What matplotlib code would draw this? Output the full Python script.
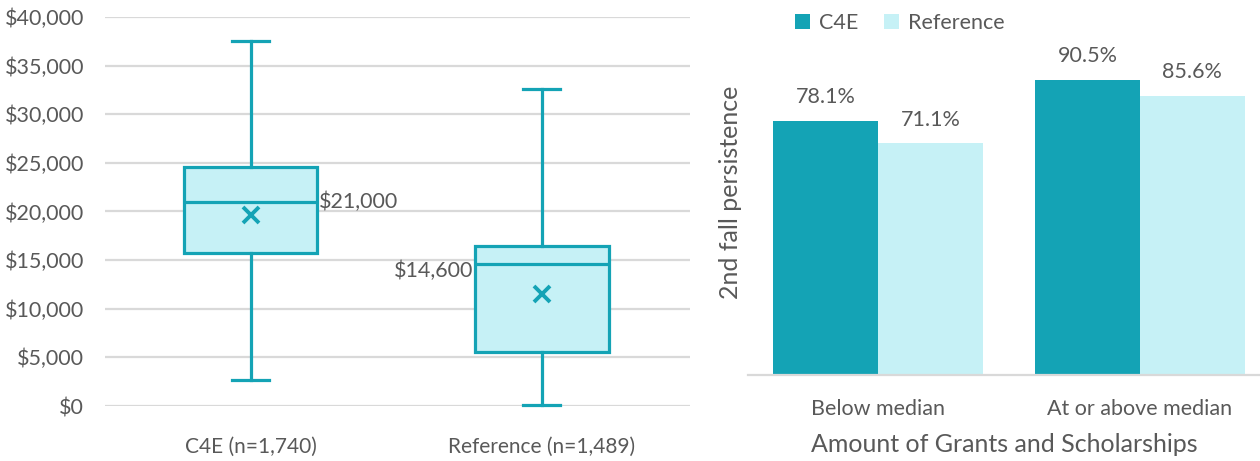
import matplotlib
matplotlib.use("Agg")
import matplotlib.pyplot as plt
from matplotlib.ticker import FuncFormatter
import numpy as np

plt.rcParams['font.family'] = ['Lato', 'DejaVu Sans']

# ---- data: box plot ----
groups = ["C4E (n=1,740)", "Reference (n=1,489)"]
whisker_low = [2700, 100]
q1 = [15700, 5600]
median = [21000, 14600]
q3 = [24600, 16500]
whisker_high = [37500, 32600]
mean = [19600, 11500]
median_labels = ["$21,000", "$14,600"]

# ---- data: bar chart ----
bar_categories = ["Below median", "At or above median"]
series_names = ["C4E", "Reference"]
c4e_values = [78.1, 90.5]
ref_values = [71.1, 85.6]

TEAL = "#14A3B5"
LIGHT = "#C6F1F6"
TEXT = "#595959"
GRID = "#D9D9D9"

fig = plt.figure(figsize=(12.6, 4.61), dpi=100)

# ---------- left: box plot ----------
ax1 = fig.add_axes([105/1260, 1-406/461, (690-105)/1260, (406-17)/461])
stats = []
for i in range(len(groups)):
    stats.append(dict(label=groups[i], whislo=whisker_low[i], q1=q1[i], med=median[i],
                      q3=q3[i], whishi=whisker_high[i], mean=mean[i], fliers=[]))
lw = 2.3
bp = ax1.bxp(stats, positions=[1, 2], widths=0.46, showmeans=True, patch_artist=True,
             boxprops=dict(facecolor=LIGHT, edgecolor=TEAL, linewidth=lw),
             medianprops=dict(color=TEAL, linewidth=lw),
             whiskerprops=dict(color=TEAL, linewidth=lw),
             capprops=dict(color=TEAL, linewidth=lw),
             meanprops=dict(marker='x', markeredgecolor=TEAL, markersize=11, markeredgewidth=2.8),
             capwidths=0.13)
for key in ['boxes', 'medians', 'whiskers', 'caps', 'means']:
    for a in bp[key]:
        a.set_clip_on(False)
        a.set_zorder(3)
ax1.set_xlim(0.5, 2.51)
ax1.set_ylim(0, 40000)
ax1.set_yticks(range(0, 40001, 5000))
ax1.yaxis.set_major_formatter(FuncFormatter(lambda v, p: f"${v:,.0f}"))
ax1.grid(axis='y', color=GRID, linewidth=1.6)
ax1.set_axisbelow(True)
for s in ax1.spines.values():
    s.set_visible(False)
ax1.tick_params(length=0, labelsize=15.5, colors=TEXT)
ax1.tick_params(axis='y', pad=15)
ax1.tick_params(axis='x', labelsize=15, pad=22)
# median labels
ax1.text(1 + 0.23 + 0.005, median[0], median_labels[0], ha='left', va='center', fontsize=15.5, color=TEXT)
ax1.text(2 - 0.23 - 0.005, median[1] - 700, median_labels[1], ha='right', va='center', fontsize=15.5, color=TEXT)

# ---------- right: bar chart ----------
ax2 = fig.add_axes([748/1260, 1-375/461, (1260-748)/1260, (375-10)/461])
x = np.arange(len(bar_categories))
w = 0.4
b1 = ax2.bar(x - w/2, c4e_values, w, color=TEAL, label=series_names[0])
b2 = ax2.bar(x + w/2, ref_values, w, color=LIGHT, label=series_names[1])
for bars, vals in [(b1, c4e_values), (b2, ref_values)]:
    for r, v in zip(bars, vals):
        ax2.annotate(f"{v:.1f}%", (r.get_x() + r.get_width()/2, v), xytext=(0, 10),
                     textcoords='offset points', ha='center', va='bottom', fontsize=15.5, color=TEXT)
ax2.set_xlim(-0.496, 1.458)
ax2.set_ylim(0, 112.1)
ax2.set_yticks([])
ax2.set_xticks(x)
ax2.set_xticklabels(bar_categories)
for s in ['top', 'right', 'left']:
    ax2.spines[s].set_visible(False)
ax2.spines['bottom'].set_color(GRID)
ax2.spines['bottom'].set_linewidth(1.6)
ax2.tick_params(length=0, labelsize=15.5, colors=TEXT, pad=17)
ax2.set_ylabel("2nd fall persistence", fontsize=18, color=TEXT, labelpad=4)
ax2.set_xlabel("Amount of Grants and Scholarships", fontsize=18, color=TEXT, labelpad=10)
ax2.legend(loc='upper left', bbox_to_anchor=(795/1260, 1-13/461), bbox_transform=fig.transFigure,
           ncol=2, frameon=False, fontsize=15.5, handlelength=0.7, handleheight=0.7,
           handletextpad=0.4, columnspacing=1.2, labelcolor=TEXT, borderaxespad=0, borderpad=0)

fig.savefig("out.png", dpi=100)
